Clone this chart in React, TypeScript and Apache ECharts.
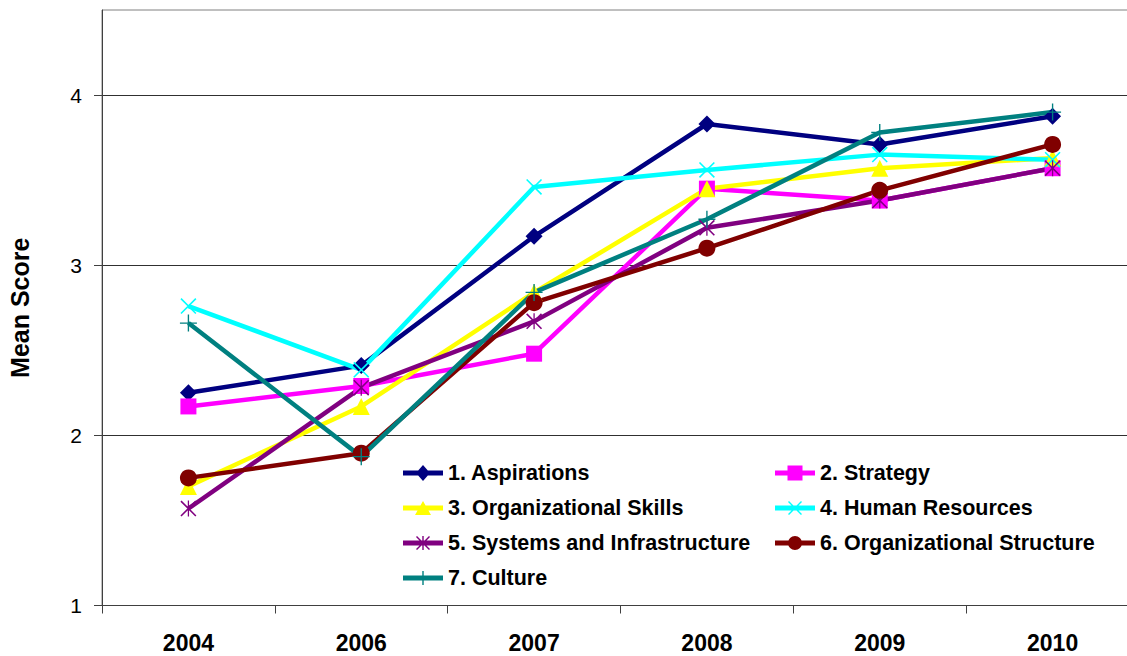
import React, { useEffect, useRef } from "react";
import * as echarts from "echarts";

const years = ["2004", "2006", "2007", "2008", "2009", "2010"];
const yTicks = [1, 2, 3, 4];

const aspirations = [2.25, 2.41, 3.17, 3.83, 3.71, 3.875];
const strategy = [2.17, 2.29, 2.48, 3.45, 3.38, 3.57];
const orgSkills = [1.7, 2.17, 2.84, 3.45, 3.57, 3.63];
const humanResources = [2.76, 2.385, 3.46, 3.56, 3.65, 3.62];
const systemsInfra = [1.57, 2.28, 2.67, 3.22, 3.38, 3.57];
const orgStructure = [1.75, 1.895, 2.78, 3.1, 3.44, 3.71];
const culture = [2.66, 1.875, 2.84, 3.27, 3.78, 3.9];

const names = [
  "1. Aspirations",
  "2. Strategy",
  "3. Organizational Skills",
  "4. Human Resources",
  "5. Systems and Infrastructure",
  "6. Organizational Structure",
  "7. Culture",
];

// series marker shapes (filled paths, stretched to the symbol size)
const X_PATH = "path://M0,7L7,0L100,93L93,100ZM93,0L100,7L7,100L0,93Z";
const STAR_PATH =
  "path://M0,7L7,0L100,93L93,100ZM93,0L100,7L7,100L0,93ZM46,0L54,0L54,100L46,100Z";
const PLUS_PATH = "path://M46,0H54V46H100V54H54V100H46V54H0V46H46Z";

// legend icons: line + marker, in a 40x16 box
const ANCHOR = "M0,0L0.01,0L0,0.01ZM40,16L39.99,16L40,15.99Z";
const BAR = "M0,5.5H40V10.5H0Z";
const legendIcons = [
  "path://" + ANCHOR + BAR + "M20,0L27,8L20,16L13,8Z",
  "path://" + ANCHOR + BAR + "M12.5,0.5H27.5V15.5H12.5Z",
  "path://" + ANCHOR + BAR + "M20,1L28,15L12,15Z",
  "path://" + ANCHOR + BAR + "M13,2L14,1L27,14L26,15ZM26,1L27,2L14,15L13,14Z",
  "path://" + ANCHOR + BAR + "M13,2L14,1L27,14L26,15ZM26,1L27,2L14,15L13,14ZM19.3,1H20.7V15H19.3Z",
  "path://" + ANCHOR + BAR + "M13,8A7,7 0 1 1 27,8A7,7 0 1 1 13,8Z",
  "path://" + ANCHOR + BAR + "M19.3,1H20.7V15H19.3Z",
];

export default function App() {
  const ref = useRef<HTMLDivElement>(null);
  useEffect(() => {
    if (!ref.current) return;
    const chart = echarts.init(ref.current, undefined, { renderer: "svg" });
    const font = "'Liberation Sans', Arial, sans-serif";
    const mk = (
      name: string,
      data: number[],
      color: string,
      symbol: string,
      size: number
    ) => ({
      name,
      type: "line",
      data,
      symbol,
      symbolSize: size,
      showSymbol: true,
      itemStyle: { color, borderWidth: 0 },
      lineStyle: { color, width: 4.5 },
      emphasis: { disabled: true },
    });
    const legendText = {
      color: "#000",
      fontWeight: "bold",
      fontSize: 21.5,
      fontFamily: font,
      lineHeight: 22,
    };
    const legendBase = {
      orient: "vertical",
      top: 462,
      padding: 0,
      itemWidth: 40,
      itemHeight: 16,
      itemGap: 13,
      textStyle: legendText,
      itemStyle: { borderWidth: 0 },
      selectedMode: false,
    };
    const item = (i: number) => ({ name: names[i], icon: legendIcons[i] });
    chart.setOption({
      animation: false,
      backgroundColor: "#fff",
      grid: {
        left: 102,
        top: 10,
        right: -12,
        bottom: 50.5,
        outerBoundsMode: "none",
        containLabel: false,
        show: true,
        borderColor: "#808080",
        borderWidth: 1,
      },
      legend: [
        {
          ...legendBase,
          left: 403,
          data: [item(0), item(2), item(4), item(6)],
        },
        {
          ...legendBase,
          left: 775,
          data: [item(1), item(3), item(5)],
        },
      ],
      xAxis: {
        type: "category",
        data: years,
        boundaryGap: true,
        axisLine: { lineStyle: { color: "#404040", width: 1 } },
        axisTick: { show: true, length: 8, lineStyle: { color: "#404040" } },
        axisLabel: {
          margin: 26,
          color: "#000",
          fontWeight: "bold",
          fontSize: 23,
          fontFamily: font,
        },
        splitLine: { show: false },
      },
      yAxis: {
        type: "value",
        min: 1,
        max: 4.5,
        interval: 1,
        name: "Mean Score",
        nameLocation: "middle",
        nameGap: 70,
        nameTextStyle: {
          color: "#000",
          fontWeight: "bold",
          fontSize: 25,
          fontFamily: font,
        },
        axisLine: { show: true, lineStyle: { color: "#404040", width: 1 } },
        axisTick: {
          show: true,
          length: 8,
          customValues: yTicks,
          lineStyle: { color: "#404040" },
        },
        axisLabel: {
          customValues: yTicks,
          margin: 20,
          color: "#000",
          fontSize: 21,
          fontFamily: font,
        },
        splitLine: { show: true, lineStyle: { color: "#303030", width: 1 } },
      },
      series: [
        mk(names[0], aspirations, "#000080", "diamond", 17),
        mk(names[1], strategy, "#FF00FF", "rect", 16),
        mk(names[2], orgSkills, "#FFFF00", "triangle", 17),
        mk(names[3], humanResources, "#00FFFF", X_PATH, 16),
        mk(names[4], systemsInfra, "#800080", STAR_PATH, 16),
        mk(names[5], orgStructure, "#800000", "circle", 17),
        mk(names[6], culture, "#008080", PLUS_PATH, 17),
      ],
    });
    return () => chart.dispose();
  }, []);
  return (
    <div
      ref={ref}
      style={{ position: "fixed", left: 0, top: 0, width: 1127, height: 656 }}
    />
  );
}
